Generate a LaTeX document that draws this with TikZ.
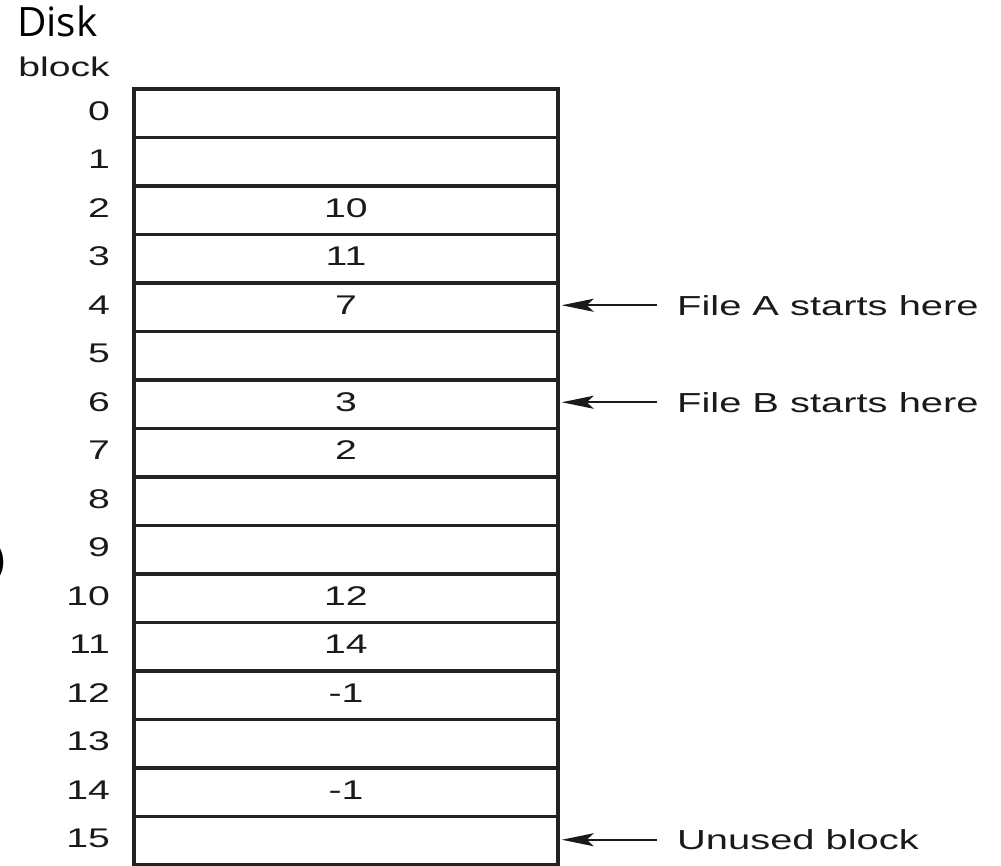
\documentclass[tikz,border=0pt]{standalone}
\usepackage{fontspec}
\setmainfont{Liberation Sans}
\newfontfamily\titlefont{Open Sans}
\usetikzlibrary{arrows.meta}
\definecolor{ink}{HTML}{1A1A1A}
\definecolor{rule}{HTML}{222222}
% stretched sans text used throughout the table
\newcommand\wtext[1]{\scalebox{1.45}[1]{#1}}
\tikzset{
  cellbox/.style={draw=rule, line width=3.5pt, minimum width=424pt,
    minimum height=48.5pt, inner sep=0pt, text=ink,
    font=\fontsize{27}{30}\selectfont},
  rownum/.style={anchor=base east, inner sep=0pt, text=ink,
    font=\fontsize{27}{30}\selectfont},
  note/.style={anchor=west, inner sep=0pt, text=ink,
    font=\fontsize{27.5}{30}\selectfont},
  pointer/.style={draw=ink, line width=2pt,
    -{Stealth[length=32pt, width=13pt, inset=7pt]}}
}
\begin{document}
\begin{tikzpicture}[x=1pt, y=-1pt]
\useasboundingbox (0,0) rectangle (1001,866);

% heading
\node[anchor=base west, inner sep=0pt, text=black,
      font=\titlefont\fontsize{40.5}{44}\selectfont] (disk) at (17,37) {Disk};
\node[rownum] (blockhdr) at (110,77) {\wtext{block}};
\node[anchor=west, inner sep=0pt, text=black,
      font=\titlefont\fontsize{40}{44}\selectfont] (paren) at (-7,562) {)};

% the table: one cell per disk block, with its next-block entry
\foreach \i/\v in {0/,1/,2/10,3/11,4/7,5/,6/3,7/2,8/,9/,10/12,11/14,12/-1,13/,14/-1,15/} {
  \pgfmathsetmacro\yc{113.25+48.5*\i}
  \node[cellbox] (c\i) at (346,\yc) {};
  \node[anchor=base, inner sep=0pt, text=ink,
        font=\fontsize{27}{30}\selectfont] (v\i) at (346,\yc+7) {\wtext{\v}};
  \node[rownum] (n\i) at (110,\yc+7) {\wtext{\i}};
}

% pointers into the table
\node[note] (fa) at (677,305.25) {\wtext{File A starts here}};
\node[note] (fb) at (677,402.25) {\wtext{File B starts here}};
\node[note] (ub) at (677,839.75) {\wtext{Unused block}};

\draw[pointer] ([xshift=-20pt]fa.west) -- ([xshift=2pt]fa.west -| c4.east);
\draw[pointer] ([xshift=-20pt]fb.west) -- ([xshift=2pt]fb.west -| c6.east);
\draw[pointer] ([xshift=-20pt]ub.west) -- ([xshift=2pt]ub.west -| c15.east);
\end{tikzpicture}
\end{document}
